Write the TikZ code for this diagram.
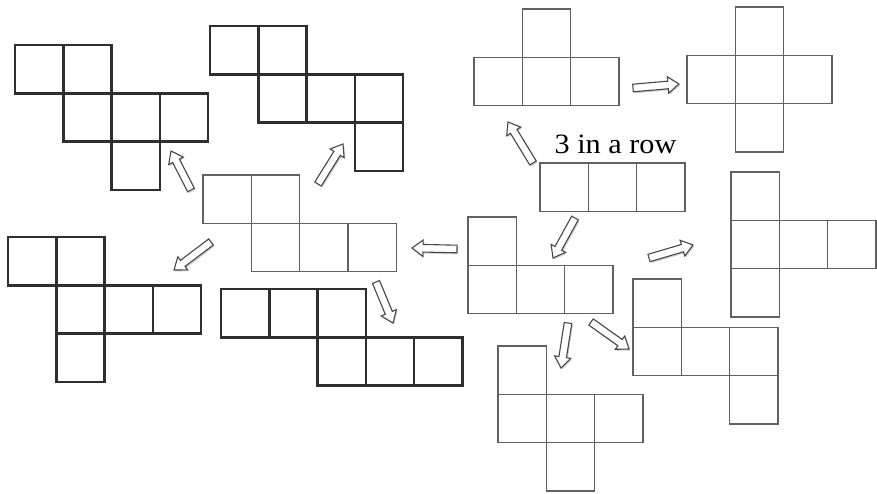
\documentclass[tikz,border=0pt]{standalone}
\usepackage{fontspec}
\setmainfont{Liberation Serif}
\usetikzlibrary{calc}
\tikzset{
  thicknet/.style={draw=black!82, line width=2.4pt},
  thinnet/.style={draw=black!62, line width=1.35pt},
  blockarr/.style={draw=black!72, fill=white, line width=1.1pt, line join=miter},
  arrshadow/.style={fill=black!18},
  label3/.style={font=\fontsize{28}{30}\selectfont, inner sep=0pt, anchor=base},
}
\newcommand\blockarrow[2]{%
  \coordinate (ht) at ($(#2)!11pt!(#1)$);
  \fill[arrshadow, transform canvas={shift={(1.2pt,-1.5pt)}}]
    ($(#1)!3.8pt!90:(#2)$) -- ($(ht)!3.8pt!90:(#2)$) -- ($(ht)!8.2pt!90:(#2)$) -- (#2)
    -- ($(ht)!8.2pt!-90:(#2)$) -- ($(ht)!3.8pt!-90:(#2)$) -- ($(#1)!3.8pt!-90:(#2)$) -- cycle;
  \draw[blockarr]
    ($(#1)!3.8pt!90:(#2)$) -- ($(ht)!3.8pt!90:(#2)$) -- ($(ht)!8.2pt!90:(#2)$) -- (#2)
    -- ($(ht)!8.2pt!-90:(#2)$) -- ($(ht)!3.8pt!-90:(#2)$) -- ($(#1)!3.8pt!-90:(#2)$) -- cycle;
}
\newcommand\cubenet[3]{%
  \begin{scope}[shift={#2}, x=48.3pt, y=-48.3pt]
    \foreach \c/\r in {#3} \draw[#1] (\c,\r) rectangle ++(1,1);
  \end{scope}
}
\begin{document}
\begin{tikzpicture}[x=1pt, y=-1pt]
  \useasboundingbox[fill=white] (0,0) rectangle (877,493);
  % nets
  \cubenet{thicknet}{(15,45)}{0/0,1/0,1/1,2/1,3/1,2/2}
  \cubenet{thicknet}{(210,26)}{0/0,1/0,1/1,2/1,3/1,3/2}
  \cubenet{thinnet}{(474,9)}{1/0,0/1,1/1,2/1}
  \cubenet{thinnet}{(687,7)}{1/0,0/1,1/1,2/1,1/2}
  \cubenet{thinnet}{(203,175)}{0/0,1/0,1/1,2/1,3/1}
  \cubenet{thinnet}{(540,163)}{0/0,1/0,2/0}
  \cubenet{thinnet}{(468,217)}{0/0,0/1,1/1,2/1}
  \cubenet{thinnet}{(731,172)}{0/0,0/1,1/1,2/1,0/2}
  \cubenet{thicknet}{(8,237)}{0/0,1/0,1/1,2/1,3/1,1/2}
  \cubenet{thicknet}{(221,289)}{0/0,1/0,2/0,2/1,3/1,4/1}
  \cubenet{thinnet}{(498,346)}{0/0,0/1,1/1,2/1,1/2}
  \cubenet{thinnet}{(633,279)}{0/0,0/1,1/1,2/1,2/2}
  % label
  \node[label3] (lbl) at (615.5,153) {\scalebox{1.08}[1]{3 in a row}};
  % arrow end points
  \coordinate (t1) at (191,190); \coordinate (h1) at (171,151);
  \coordinate (t2) at (318,184); \coordinate (h2) at (343,144);
  \coordinate (t3) at (533,163); \coordinate (h3) at (508,122);
  \coordinate (t4) at (633,88);  \coordinate (h4) at (679,84);
  \coordinate (t5) at (575,218); \coordinate (h5) at (553,258);
  \coordinate (t6) at (457,249); \coordinate (h6) at (412,248);
  \coordinate (t7) at (649,258); \coordinate (h7) at (693,245);
  \coordinate (t8) at (211,242); \coordinate (h8) at (174,270);
  \coordinate (t9) at (376,282); \coordinate (h9) at (393,323);
  \coordinate (t10) at (568,323); \coordinate (h10) at (561,368);
  \coordinate (t11) at (591,322); \coordinate (h11) at (629,349);
  \blockarrow{t1}{h1}
  \blockarrow{t2}{h2}
  \blockarrow{t3}{h3}
  \blockarrow{t4}{h4}
  \blockarrow{t5}{h5}
  \blockarrow{t6}{h6}
  \blockarrow{t7}{h7}
  \blockarrow{t8}{h8}
  \blockarrow{t9}{h9}
  \blockarrow{t10}{h10}
  \blockarrow{t11}{h11}
\end{tikzpicture}
\end{document}
